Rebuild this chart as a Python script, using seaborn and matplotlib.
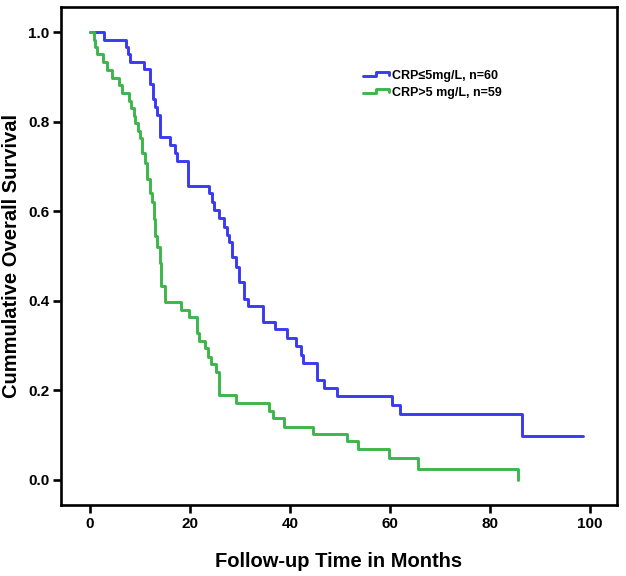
import numpy as np
import pandas as pd
import matplotlib
matplotlib.use("Agg")
import matplotlib.pyplot as plt
from matplotlib.legend_handler import HandlerBase
from matplotlib.lines import Line2D
import seaborn as sns

GRUPOS = ["CRP\u22645mg/L, n=60", "CRP>5 mg/L, n=59"]
COLORES = ["#3a3af2", "#3cb54a"]

bajo_t = [0, 2.7, 7.1, 7.5, 8.0, 10.7, 12.0, 12.5, 13.0, 13.3, 14.0, 16.0, 17.0,
          17.4, 19.5, 23.7, 24.3, 24.8, 25.7, 26.7, 27.4, 27.8, 28.3, 29.2, 29.7,
          30.7, 31.5, 34.5, 37.0, 39.3, 41.2, 42.2, 42.5, 45.3, 46.7, 49.3, 60.3,
          62.0, 86.3]
bajo_s = [1.0, 0.983, 0.967, 0.950, 0.933, 0.917, 0.883, 0.850, 0.833, 0.815, 0.765,
          0.748, 0.730, 0.712, 0.657, 0.640, 0.621, 0.603, 0.584, 0.565, 0.547,
          0.532, 0.497, 0.476, 0.443, 0.405, 0.388, 0.353, 0.336, 0.318, 0.300,
          0.279, 0.262, 0.224, 0.205, 0.187, 0.167, 0.147, 0.097]
bajo_fin = 98.5

alto_t = [0, 0.7, 1.0, 1.3, 2.5, 3.3, 4.3, 5.7, 6.3, 7.7, 8.1, 8.7, 9.0, 9.5, 10.0,
          10.3, 11.0, 11.3, 11.9, 12.3, 12.7, 13.0, 13.4, 13.9, 14.1, 15.0, 18.1,
          19.8, 21.3, 21.7, 22.9, 23.5, 24.1, 25.2, 25.7, 29.2, 35.7, 36.5, 38.7,
          44.5, 51.3, 53.6, 59.7, 65.5, 85.5]
alto_s = [1.0, 0.983, 0.966, 0.950, 0.933, 0.915, 0.898, 0.881, 0.864, 0.847, 0.830,
          0.813, 0.797, 0.780, 0.763, 0.729, 0.707, 0.673, 0.640, 0.621, 0.582,
          0.545, 0.521, 0.484, 0.432, 0.398, 0.379, 0.363, 0.329, 0.311, 0.294,
          0.275, 0.259, 0.242, 0.189, 0.172, 0.154, 0.138, 0.119, 0.103, 0.086,
          0.069, 0.050, 0.024, 0.0]
alto_fin = 85.5

filas = []
for g, ts, ss, fin in [(GRUPOS[0], bajo_t, bajo_s, bajo_fin),
                       (GRUPOS[1], alto_t, alto_s, alto_fin)]:
    for t, s in zip(ts + [fin], ss + [ss[-1]]):
        filas.append({"grupo": g, "meses": t, "sobrevida": s})
df = pd.DataFrame(filas)

sns.set_theme(style="white")
plt.rcParams["font.family"] = ["Liberation Sans", "DejaVu Sans"]
plt.rcParams["font.weight"] = "bold"
plt.rcParams["text.color"] = "black"
plt.rcParams["axes.labelcolor"] = "black"

fig = plt.figure(figsize=(6.26, 5.76), dpi=100)
ax = fig.add_axes([61 / 626, 1 - 505 / 576, (617 - 61) / 626, (505 - 7) / 576])

sns.lineplot(data=df, x="meses", y="sobrevida", hue="grupo", hue_order=GRUPOS,
             palette=COLORES, estimator=None, sort=False, drawstyle="steps-post",
             linewidth=2.1, legend=False, ax=ax)

ax.set_xlim(-5.8, 105.4)
ax.set_ylim(-0.056, 1.056)
ax.set_xticks(range(0, 101, 20))
ax.set_yticks(np.arange(0, 1.01, 0.2))
ax.set_yticklabels([f"{v:.1f}" for v in np.arange(0, 1.01, 0.2)])
ax.tick_params(axis="both", which="major", direction="out", length=6, width=1.9,
               labelsize=11, pad=2.5, color="black", labelcolor="black",
               bottom=True, left=True)
for lab in ax.get_xticklabels() + ax.get_yticklabels():
    lab.set_fontweight("bold")
for sp in ax.spines.values():
    sp.set_visible(True)
    sp.set_color("black")
    sp.set_linewidth(1.9)

ax.set_xlabel("Follow-up Time in Months", fontsize=14.5, fontweight="bold",
              labelpad=15, color="black")
ax.set_ylabel("Cummulative Overall Survival", fontsize=14.5, fontweight="bold",
              labelpad=5, color="black")


class HandlerEscalon(HandlerBase):
    def create_artists(self, legend, orig_handle, xdescent, ydescent, width,
                       height, fontsize, trans):
        x0, y0 = -xdescent, -ydescent
        xs = [x0, x0 + 0.5 * width, x0 + 0.5 * width, x0 + 0.95 * width,
              x0 + 0.95 * width]
        ys = [y0 + 0.35 * height, y0 + 0.35 * height, y0 + 0.85 * height,
              y0 + 0.85 * height, y0 + 0.45 * height]
        ln = Line2D(xs, ys, color=orig_handle.get_color(),
                    linewidth=orig_handle.get_linewidth(), transform=trans)
        return [ln]


manijas = [Line2D([], [], color=c, linewidth=2.1) for c in COLORES]
leg = ax.legend(manijas, GRUPOS, handler_map={Line2D: HandlerEscalon()},
                loc="upper left", bbox_to_anchor=((363 - 61) / 556, 1 - (70 - 7) / 498),
                frameon=False, prop={"size": 9, "weight": "bold"},
                handlelength=2.15, handletextpad=0.2, labelspacing=0.42,
                borderpad=0, borderaxespad=0)

fig.savefig("out.png", dpi=100)
